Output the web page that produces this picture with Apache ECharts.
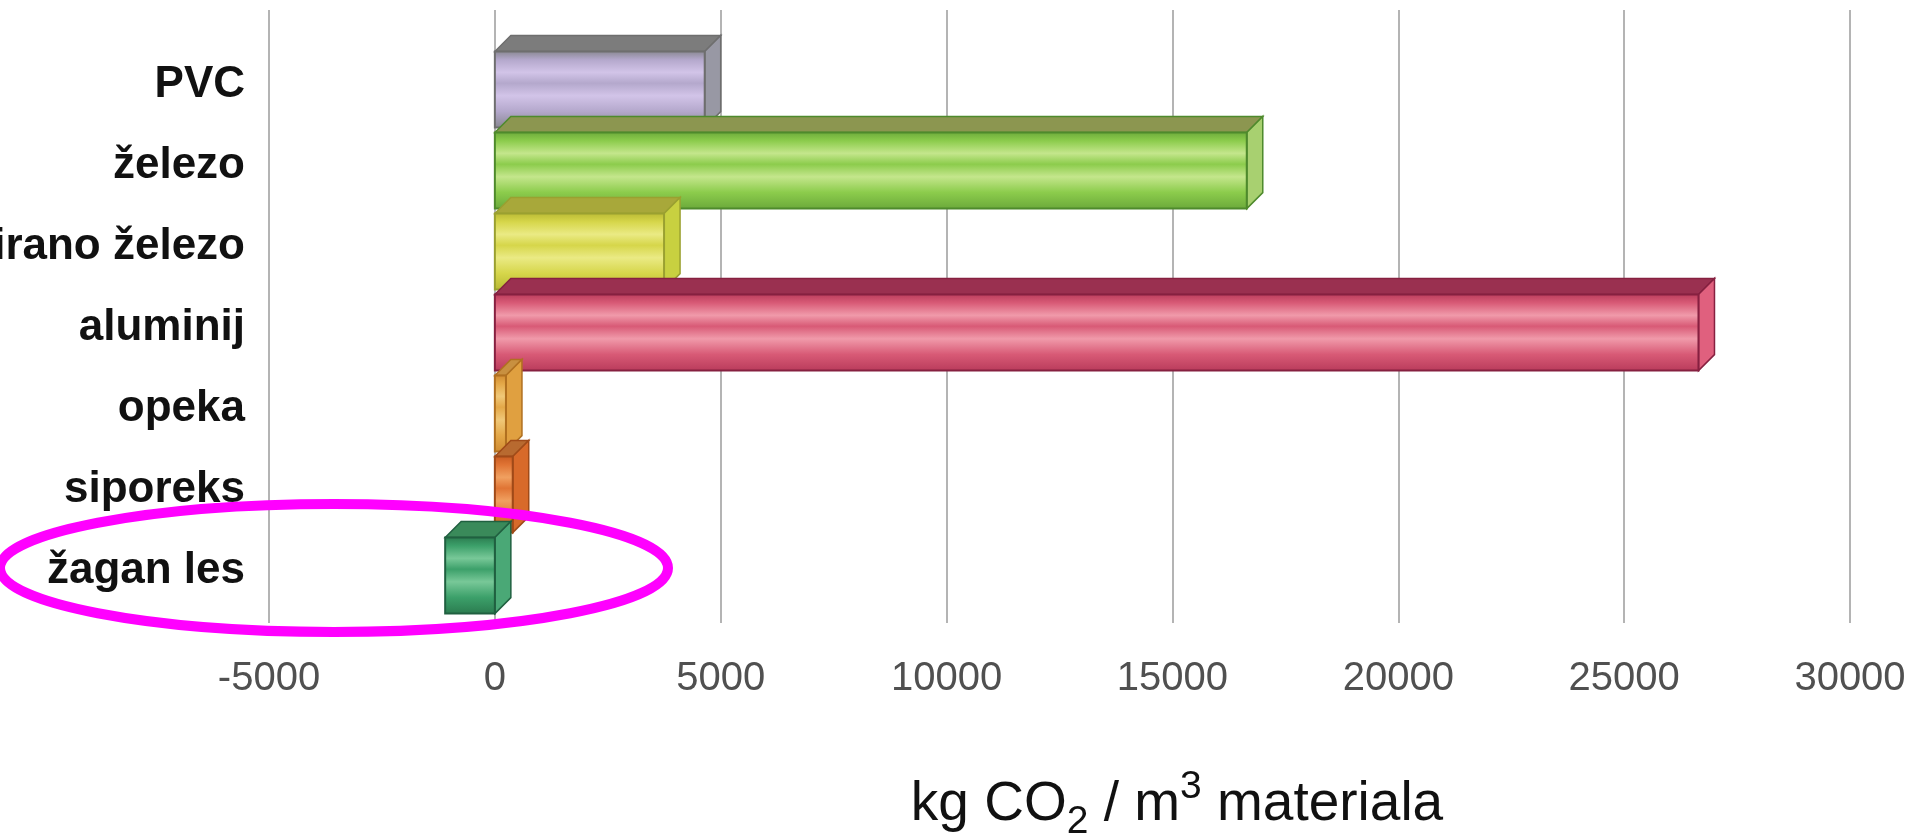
<!DOCTYPE html>
<html>
<head>
<meta charset="utf-8">
<script src="https://cdn.jsdelivr.net/npm/echarts@6/dist/echarts.min.js"></script>
<style>
html,body{margin:0;padding:0;background:#fff;}
#chart{width:1917px;height:836px;}
</style>
</head>
<body>
<div id="chart"></div>
<script>
// ---- data ----
var categories = ['PVC', 'železo', 'galvanizirano železo', 'aluminij', 'opeka', 'siporeks', 'žagan les'];
var values = [5000, 17000, 4100, 27000, 600, 750, -1100];
var tickValues = [-5000, 0, 5000, 10000, 15000, 20000, 25000, 30000];
var axisTitle = ['kg CO', '2', ' / m', '3', ' materiala'];

// ---- styles (per bar) ----
var palette = [
  {dark:'#86868e', mid:'#b4a8cc', light:'#d2c4e8', top:'#7c7c7c', side:'#9898a4', border:'#6e6e6e'},
  {dark:'#6aa83a', mid:'#8ccc4c', light:'#c4e68c', top:'#8c9650', side:'#a8d070', border:'#4e8a2c'},
  {dark:'#b8b832', mid:'#d6d64a', light:'#eaea84', top:'#a8a83a', side:'#c8d040', border:'#9aa030'},
  {dark:'#b83a5a', mid:'#d85a76', light:'#f09aaa', top:'#9a3050', side:'#e0607e', border:'#862040'},
  {dark:'#d08a30', mid:'#e4a848', light:'#f0c878', top:'#c89040', side:'#e0a040', border:'#b07020'},
  {dark:'#c85a20', mid:'#e07434', light:'#f0a060', top:'#b86a30', side:'#d86a2a', border:'#a04a18'},
  {dark:'#2a7a4e', mid:'#3ca06a', light:'#78c898', top:'#3a8a5a', side:'#4aa876', border:'#206040'}
];

var chart = echarts.init(document.getElementById('chart'), null, {renderer:'canvas'});
var DEPTH = 16;
var FONT = "'Liberation Sans', Arial, sans-serif";

function grad(p){
  return {type:'linear', x:0, y:0, x2:0, y2:1, colorStops:[
    {offset:0, color:p.dark},{offset:0.12, color:p.mid},{offset:0.28, color:p.light},
    {offset:0.42, color:p.mid},{offset:0.58, color:p.light},{offset:0.78, color:p.mid},
    {offset:1, color:p.dark}]};
}

function renderItem(params, api){
  var idx = api.value(1);
  var v = api.value(0);
  var p0 = api.coord([0, idx]);
  var p1 = api.coord([v, idx]);
  var band = api.size([0, 1])[1];
  var h = band * 0.94;
  var yc = p0[1] - 3;
  var yTop = yc - h / 2 + DEPTH / 2;
  var yBot = yTop + h;
  var X0 = p0[0];
  var X1 = v >= 0 ? p1[0] - DEPTH : p1[0];
  var L = Math.min(X0, X1), R = Math.max(X0, X1);
  var p = palette[params.dataIndex % palette.length];
  var d = DEPTH;
  return {
    type:'group',
    children:[
      {type:'polygon', shape:{points:[[L,yTop],[L+d,yTop-d],[R+d,yTop-d],[R,yTop]]},
        style:{fill:p.top, stroke:p.border, lineWidth:1.5}},
      {type:'polygon', shape:{points:[[R,yTop],[R+d,yTop-d],[R+d,yBot-d],[R,yBot]]},
        style:{fill:p.side, stroke:p.border, lineWidth:1.5}},
      {type:'rect', shape:{x:L, y:yTop, width:R-L, height:h},
        style:{fill:grad(p), stroke:p.border, lineWidth:2}}
    ]
  };
}

var seriesData = values.map(function(v, i){ return [v, i]; });

var option = {
  backgroundColor:'#ffffff',
  animation:false,
  grid:[
    {left:269, right:67, top:44, bottom:225, outerBoundsMode:'none', containLabel:false},
    {left:269, right:67, top:10, bottom:213, outerBoundsMode:'none', containLabel:false}
  ],
  xAxis:[
    {gridIndex:0, type:'value', min:tickValues[0], max:tickValues[tickValues.length-1], interval:5000, show:false},
    {gridIndex:1, type:'value', min:tickValues[0], max:tickValues[tickValues.length-1], interval:5000,
      axisLine:{show:false}, axisTick:{show:false},
      splitLine:{show:true, lineStyle:{color:'#b4b4b4', width:2}},
      axisLabel:{color:'#505050', fontSize:40, fontFamily:FONT, margin:36,
        formatter:function(v){ return String(v); }}}
  ],
  yAxis:[
    {gridIndex:0, type:'category', data:categories, inverse:true,
      axisLine:{show:false}, axisTick:{show:false}, splitLine:{show:false},
      axisLabel:{color:'#111', fontSize:44, fontWeight:'bold', fontFamily:FONT, margin:24}},
    {gridIndex:1, type:'value', min:0, max:1, show:false}
  ],
  title:{
    text:'{m|' + axisTitle[0] + '}{sub|' + axisTitle[1] + '}{m|' + axisTitle[2] + '}{sup|' + axisTitle[3] + '}{m|' + axisTitle[4] + '}',
    left:1172, top:763, textAlign:'center',
    textStyle:{
      fontWeight:'normal',
      rich:{
        m:{fontSize:55, fontWeight:'normal', fontFamily:FONT, color:'#111', lineHeight:74},
        sub:{fontSize:39, fontWeight:'normal', fontFamily:FONT, color:'#111', verticalAlign:'bottom', lineHeight:74},
        sup:{fontSize:39, fontWeight:'normal', fontFamily:FONT, color:'#111', verticalAlign:'top', lineHeight:74}
      }
    }
  },
  graphic:[
    {type:'ellipse', shape:{cx:334, cy:568, rx:334, ry:64}, z:100,
      style:{fill:'none', stroke:'#ff00ff', lineWidth:10}}
  ],
  series:[
    {type:'custom', xAxisIndex:0, yAxisIndex:0, renderItem:renderItem, data:seriesData,
      encode:{x:0, y:1}}
  ]
};
chart.setOption(option);
</script>
</body>
</html>
